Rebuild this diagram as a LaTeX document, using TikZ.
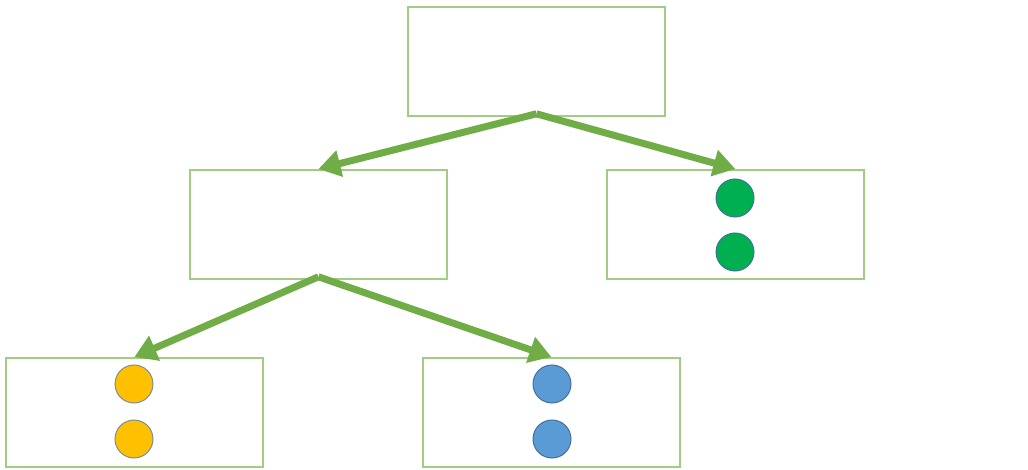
\documentclass[tikz,border=0pt]{standalone}
\usetikzlibrary{arrows.meta}
\definecolor{boxline}{HTML}{A0CC84}
\definecolor{arrowgreen}{HTML}{70AD47}
\definecolor{dotgreen}{HTML}{00B050}
\definecolor{dotyellow}{HTML}{FFC000}
\definecolor{dotblue}{HTML}{5B9BD5}
\definecolor{edgeblue}{HTML}{41719C}
\definecolor{edgegray}{HTML}{7F8C9A}
\tikzset{
  treebox/.style={draw=boxline, line width=1.8pt, fill=white, rectangle,
    minimum width=257pt, minimum height=109pt, inner sep=0pt, anchor=north west},
  branch/.style={draw=arrowgreen, line width=7pt,
    -{Triangle[length=22pt,width=26pt]}},
  dot/.style={circle, minimum size=38pt, inner sep=0pt, line width=1pt},
  gdot/.style={dot, fill=dotgreen, draw=edgeblue},
  ydot/.style={dot, fill=dotyellow, draw=edgegray},
  bdot/.style={dot, fill=dotblue, draw=edgeblue}
}
\begin{document}
\begin{tikzpicture}[x=1pt,y=-1pt]
  \useasboundingbox (0,0) rectangle (1028,470);
  % tree boxes
  \node[treebox] (root) at (407,6) {};
  \node[treebox] (midL) at (189,169) {};
  \node[treebox] (midR) at (606,169) {};
  \node[treebox] (botL) at (5,357) {};
  \node[treebox] (botR) at (422,357) {};
  % markers inside the leaf boxes
  \node[gdot] (g1) at (735,198) {};
  \node[gdot] (g2) at (735,252) {};
  \node[ydot] (y1) at (134,384) {};
  \node[ydot] (y2) at (134,439) {};
  \node[bdot] (b1) at (552,384) {};
  \node[bdot] (b2) at (552,439) {};
  % branches
  \coordinate (rootOut) at ([yshift=3pt]root.south);
  \coordinate (midOut) at ([yshift=3pt]midL.south);
  \draw[branch] (rootOut) -- (midL.north);
  \draw[branch] (rootOut) -- (midR.north);
  \draw[branch] (midOut) -- (botL.north);
  \draw[branch] (midOut) -- (botR.north);
\end{tikzpicture}
\end{document}
